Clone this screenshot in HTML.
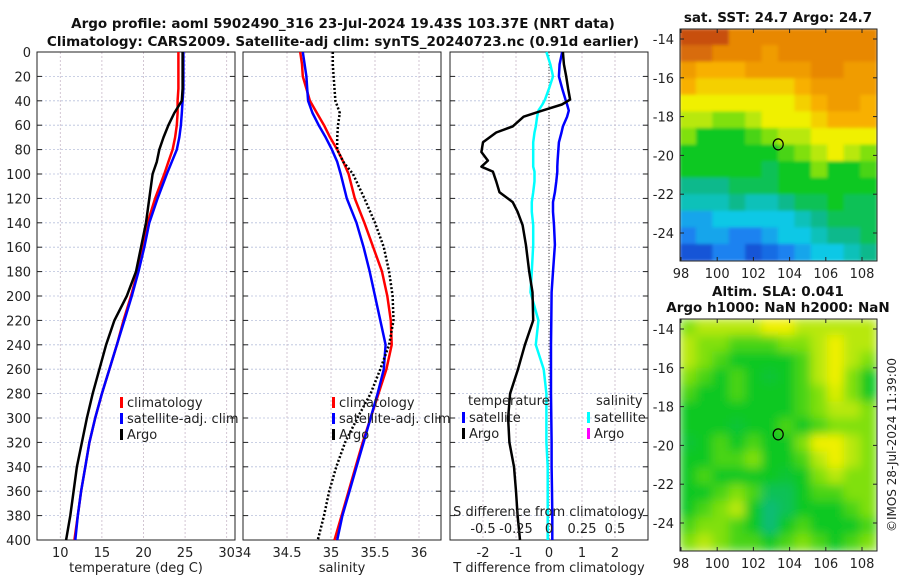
<!DOCTYPE html>
<html><head><meta charset="utf-8">
<style>
body{margin:0;background:#fff;}
svg{display:block;font-family:"DejaVu Sans","Liberation Sans",sans-serif;}
.t{font-size:13px;fill:#222;}
.b{font-size:13.5px;font-weight:bold;fill:#111;}
</style></head>
<body>
<svg id="c" width="900" height="580" viewBox="0 0 900 580">
<defs>
<filter id="blur1" x="0" y="0" width="1" height="1"><feGaussianBlur stdDeviation="1.5"/></filter>
<filter id="blur2" x="0" y="0" width="1" height="1"><feGaussianBlur stdDeviation="5"/></filter>
<clipPath id="cm1"><rect x="680" y="29" width="197" height="232"/></clipPath>
<clipPath id="cm2"><rect x="680" y="319" width="197" height="232"/></clipPath>
</defs>
<text class="b" x="343" y="28" text-anchor="middle">Argo profile: aoml 5902490_316 23-Jul-2024 19.43S 103.37E (NRT data)</text>
<text class="b" x="343" y="46" text-anchor="middle">Climatology: CARS2009. Satellite-adj clim: synTS_20240723.nc (0.91d earlier)</text>
<text class="b" x="778" y="22" text-anchor="middle">sat. SST: 24.7 Argo: 24.7</text>
<text class="b" x="778" y="296" text-anchor="middle">Altim. SLA: 0.041</text>
<text class="b" x="778" y="312" text-anchor="middle">Argo h1000: NaN h2000: NaN</text>
<text class="t" transform="translate(896,445) rotate(-90)" text-anchor="middle" style="font-size:12px">©IMOS 28-Jul-2024 11:39:00</text>
<g id="g"></g>
</svg>
<script>
const depths=[0,10,20,30,40,50,60,70,80,90,100,120,140,160,180,200,220,240,260,280,300,320,340,360,380,400];
const tClim=[24.2,24.2,24.2,24.2,24.1,24.1,24.0,23.8,23.5,23.0,22.5,21.4,20.5,19.9,19.3,18.5,17.6,16.8,15.9,15.0,14.2,13.5,13.0,12.5,12.1,11.7];
const tSat=[24.8,24.8,24.8,24.8,24.7,24.6,24.5,24.3,24.0,23.4,22.8,21.7,20.7,20.1,19.4,18.6,17.7,16.8,15.9,15.0,14.2,13.5,13.0,12.5,12.1,11.8];
const tArgo=[24.7,24.7,24.7,24.7,24.6,23.7,23.0,22.4,21.9,21.6,21.1,20.7,20.3,19.7,19.1,18.0,16.5,15.5,14.7,13.9,13.2,12.6,12.0,11.6,11.2,10.7];
const sClim=[34.65,34.67,34.68,34.72,34.76,34.84,34.92,34.99,35.07,35.14,35.2,35.27,35.38,35.48,35.58,35.64,35.68,35.69,35.63,35.54,35.45,35.36,35.28,35.2,35.12,35.04];
const sSat=[34.68,34.7,34.72,34.73,34.74,34.79,34.86,34.94,35.01,35.07,35.11,35.18,35.29,35.37,35.44,35.5,35.56,35.62,35.6,35.53,35.45,35.37,35.29,35.21,35.13,35.07];
const sArgo=[35.02,35.02,35.03,35.04,35.05,35.1,35.08,35.07,35.07,35.14,35.25,35.38,35.5,35.6,35.66,35.7,35.71,35.66,35.56,35.45,35.3,35.16,35.06,34.98,34.92,34.85];
const dDepths=[0,10,20,30,39,43,48,53,61,66,74,82,89,94,98,106,115,123,131,142,158,180,197,220,240,260,280,300,320,340,360,380,400];
const dTArgo=[0.42,0.45,0.52,0.58,0.64,0.39,-0.2,-0.77,-1.1,-1.6,-2.0,-2.05,-1.85,-2.05,-1.7,-1.6,-1.5,-1.1,-0.95,-0.8,-0.7,-0.6,-0.5,-0.48,-0.73,-0.94,-1.18,-1.24,-1.2,-1.06,-1.0,-0.95,-0.88];
const dTSat=[0.4,0.32,0.3,0.4,0.5,0.55,0.6,0.55,0.42,0.38,0.3,0.28,0.26,0.25,0.25,0.22,0.18,0.12,0.12,0.15,0.18,0.12,0.08,0.07,0.06,0.06,0.06,0.07,0.08,0.08,0.09,0.1,0.1];
const dSArgo=[-0.02,0.01,0.03,0.0,-0.03,-0.05,-0.08,-0.09,-0.1,-0.11,-0.12,-0.12,-0.12,-0.12,-0.11,-0.11,-0.12,-0.13,-0.13,-0.12,-0.12,-0.13,-0.14,-0.08,-0.1,-0.04,-0.02,-0.02,-0.02,-0.01,-0.01,-0.01,-0.01];
const yTicks=[0,20,40,60,80,100,120,140,160,180,200,220,240,260,280,300,320,340,360,380,400];
const tTicks=[10,15,20,25,30];
const sTicks=[34,34.5,35,35.5,36];
const dTicks=[-2,-1,0,1,2];
const sdTicks=[-0.5,-0.25,0,0.25,0.5];
const sdLabels=["-0.5","-0.25","0","0.25","0.5"];
const lonTicks=[98,100,102,104,106,108];
const latTicks=[-14,-16,-18,-20,-22,-24];
const sstGrid=[
[10,10,10,9,9,9,9,9,9,9,9,9],
[9.5,9.5,9,9,9,8.5,9,9,9,9,9,9],
[8.5,8,8,8,8.5,8.5,8.5,8.5,9,9,8.5,8.5],
[8,7.5,7.5,7.5,7.5,7.5,7.5,8,8.5,8.5,8.5,8.5],
[7,7,7,7,7,7,7,7.5,8,8.5,8.5,8],
[6.5,6.5,6,6,6.5,7,7,7,7.5,8,8,8],
[6,5,5,5,5.5,6,6.5,6.5,7,7,7,7],
[5,5,5,5,5,5,5.5,6,6.5,7,6.5,6],
[5,5,5,5,5,4.5,5,5,6,5,5,5.5],
[4,4,4,4.5,4.5,4.5,5,5,5,5,5,5],
[3.5,3.5,3.5,4,3.5,3.5,4,4.5,4.5,5,4.5,4.5],
[2.5,2.5,3,3,3,3,3,3.5,4,4.5,4.5,4.5],
[2,2.5,2.5,2,2,2.5,3,3,3.5,4,4,4.5],
[1,1,2,2,1,1.5,2,2.5,3,3,3.5,4]];
const slaGrid=[
[6,6.5,6.5,6.5,6.5,7,7,6.5,6.5,6.5,6.5,6.5],
[6.5,6,6,5.5,5.5,5.5,6,6,6.5,7,6.5,6.5],
[6.5,6,5.5,5,5,5,5,5.5,6.5,7,6.5,6],
[6,5.5,5,5.5,5,4.8,5,5.5,6.5,7,6,5],
[5.5,5,5,5.5,5,5,5,5.5,6,6.8,6,5],
[5,5,5,5,5,5,5,5.5,6,6.5,6.5,6],
[5,5,5,4.8,5,5,5.5,5,5.5,6,6,6],
[4.8,5,5.5,5,5.5,5,5,6,7,7,6.5,6],
[5,5,5.5,5.5,6,5,5,5.5,6.5,7,6.5,6],
[5,5.5,5,5,5,5,4.8,5,6,6.5,6,6],
[5,5,5.5,6,5.5,4.5,4.5,5,5.5,5.5,6,6],
[5,5.5,6,6.5,5,4.2,4.5,5,5,5,5.5,6],
[5.5,6,6,5.5,5,4.2,5,5.5,5,5,5,5.5],
[6,6.5,6,5.5,5.5,5,5.5,6,5.5,5,5.5,6]];
const argoLon=103.37, argoLat=-19.43;

const NS="http://www.w3.org/2000/svg";
const G=document.getElementById('g');
function mk(tag,at,parent){const e=document.createElementNS(NS,tag);for(const k in at)e.setAttribute(k,at[k]);(parent||G).appendChild(e);return e;}
const Y0=52,Y1=540;
const yS=d=>Y0+(d/400)*(Y1-Y0);
function lin(d0,d1,r0,r1){return v=>r0+(v-d0)/(d1-d0)*(r1-r0);}
const P1={x0:37,x1:235,sc:lin(7.2,31,37,235)};
const P2={x0:243,x1:441,sc:lin(34,36.25,243,441)};
const P3={x0:450,x1:648,sc:lin(-3,3,450,648)};
const sdS=lin(-0.75,0.75,450,648);

function frame(P,ticks,labels,name){
  yTicks.forEach(d=>{const l=mk('line',{x1:P.x0,x2:P.x1,y1:yS(d),y2:yS(d),stroke:'#b8c0dc','stroke-width':0.8,'stroke-dasharray':'2,2'});
    });
  ticks.forEach((v,i)=>{const x=P.sc(v);
    if(x>P.x0+1&&x<P.x1-1){const l=mk('line',{x1:x,x2:x,y1:Y0,y2:Y1,stroke:'#c8b8c8','stroke-width':0.8,'stroke-dasharray':'2,2'});
    }
    const t=mk('text',{x:x,y:Y1+17,'text-anchor':'middle',class:'t'});t.textContent=labels[i];
    });
  yTicks.forEach(d=>{[[P.x0,P.x0+5],[P.x1,P.x1-5]].forEach(a=>{const l=mk('line',{x1:a[0],x2:a[1],y1:yS(d),y2:yS(d),stroke:'#222','stroke-width':1});
    });});
  const r=mk('rect',{x:P.x0,y:Y0,width:P.x1-P.x0,height:Y1-Y0,fill:'none',stroke:'#222','stroke-width':1});
  
}
function line(P,sc,vals,dep,color,w,dash,name){
  const pts=vals.map((v,i)=>sc(v).toFixed(1)+','+yS(dep[i]).toFixed(1)).join(' ');
  const at={points:pts,fill:'none',stroke:color,'stroke-width':w,'stroke-linejoin':'round'};
  if(dash)at['stroke-dasharray']=dash;
  const p=mk('polyline',at);
  
}
yTicks.forEach(d=>{const t=mk('text',{x:31,y:yS(d)+5,'text-anchor':'end',class:'t'});t.textContent=d;
  });

frame(P1,tTicks,tTicks.map(String),'temp-panel');
frame(P2,sTicks,sTicks.map(String),'sal-panel');
frame(P3,dTicks,dTicks.map(String),'diff-panel');

line(P1,P1.sc,tClim,depths,'#f00',2.5,null,'temp-climatology-line');
line(P1,P1.sc,tSat,depths,'#00f',2.5,null,'temp-satellite-line');
line(P1,P1.sc,tArgo,depths,'#000',2.5,null,'temp-argo-line');
line(P2,P2.sc,sClim,depths,'#f00',2.5,null,'sal-climatology-line');
line(P2,P2.sc,sSat,depths,'#00f',2.5,null,'sal-satellite-line');
line(P2,P2.sc,sArgo,depths,'#000',2.5,'2,2','sal-argo-line');
{const l=mk('line',{x1:P3.sc(0),x2:P3.sc(0),y1:Y0,y2:Y1,stroke:'#444','stroke-width':1,'stroke-dasharray':'1,2'});
 }
line(P3,sdS,dSArgo,dDepths,'#0ff',2.5,null,'sal-diff-argo-line');
line(P3,P3.sc,dTSat,dDepths,'#00f',2.5,null,'temp-diff-satellite-line');
line(P3,P3.sc,dTArgo,dDepths,'#000',2.5,null,'temp-diff-argo-line');

function txt(x,y,s,name,anchor){const t=mk('text',{x:x,y:y,class:'t','text-anchor':anchor||'start'});t.textContent=s;
  return t;}
txt(136,572,'temperature (deg C)','temp-axis-title','middle');
txt(342,572,'salinity','sal-axis-title','middle');
txt(549,572,'T difference from climatology','tdiff-axis-title','middle');
txt(549,516,'S difference from climatology','sdiff-axis-title','middle');
sdTicks.forEach((v,i)=>txt(sdS(v),533,sdLabels[i],'sdiff-tick-label','middle'));

function legend(x,y,entries,name){
  entries.forEach((e,i)=>{const yy=y+i*16;
    const r=mk('rect',{x:x,y:yy-9,width:3,height:11,fill:e[0]});
    
    txt(x+7,yy+1,e[1],name+'-label');});
}
legend(120,406,[['#f00','climatology'],['#00f','satellite-adj. clim'],['#000','Argo']],'temp-legend');
legend(332,406,[['#f00','climatology'],['#00f','satellite-adj. clim'],['#000','Argo']],'sal-legend');
txt(468,405,'temperature','diff-legend-temp-header');
txt(596,405,'salinity','diff-legend-sal-header');
legend(462,421,[['#00f','satellite'],['#000','Argo']],'diff-legend-temp');
legend(587,421,[['#0ff','satellite'],['#f0f','Argo']],'diff-legend-sal');

const stops=[[0,[10,40,190]],[2,[30,130,240]],[3,[16,200,230]],[4,[16,185,140]],[5,[16,200,32]],[6,[128,224,16]],[7,[240,240,0]],[8,[248,176,0]],[9,[232,136,0]],[10,[200,80,16]]];
function cmap(v){for(let i=0;i<stops.length-1;i++){const a=stops[i],b=stops[i+1];if(v<=b[0]||i==stops.length-2){const f=Math.max(0,Math.min(1,(v-a[0])/(b[0]-a[0])));
  return 'rgb('+a[1].map((c,k)=>Math.round(c+(b[1][k]-c)*f)).join(',')+')';}}}
function map(grid,top,clip,filt,name){
  const lonS=lin(98,108,681,862), latS=lin(-14,-24,top+10,top+204);
  const x0=680,x1=877,y0=top,y1=top+232;
  const gg=mk('g',{'clip-path':'url(#'+clip+')'});
  
  const inner=mk('g',{filter:'url(#'+filt+')'},gg);
  const nr=grid.length,nc=grid[0].length,cw=(x1-x0)/nc,ch=(y1-y0)/nr;
  grid.forEach((row,r)=>row.forEach((v,c)=>{const e=mk('rect',{x:x0+c*cw-0.5,y:y0+r*ch-0.5,width:cw+1,height:ch+1,fill:cmap(v)},inner);
    }));
  const ci=mk('ellipse',{cx:lonS(argoLon),cy:latS(argoLat),rx:5,ry:5.5,fill:'none',stroke:'#000','stroke-width':1.2});
  
  const fr=mk('rect',{x:x0,y:y0,width:x1-x0,height:y1-y0,fill:'none',stroke:'#222','stroke-width':1});
  
  latTicks.forEach(v=>{const y=latS(v);
    [[x0,x0+4],[x1,x1-4]].forEach(a=>{const l=mk('line',{x1:a[0],x2:a[1],y1:y,y2:y,stroke:'#222'});});
    txt(674,y+5,String(v),name+'-lat-label','end');});
  lonTicks.forEach(v=>{const x=lonS(v);
    [[y1,y1-4],[y0,y0+4]].forEach(a=>{const l=mk('line',{x1:x,x2:x,y1:a[0],y2:a[1],stroke:'#222'});});
    txt(x,y1+17,String(v),name+'-lon-label','middle');});
}
map(sstGrid,29,'cm1','blur1','sst-map');
map(slaGrid,319,'cm2','blur2','sla-map');
</script>
</body></html>
